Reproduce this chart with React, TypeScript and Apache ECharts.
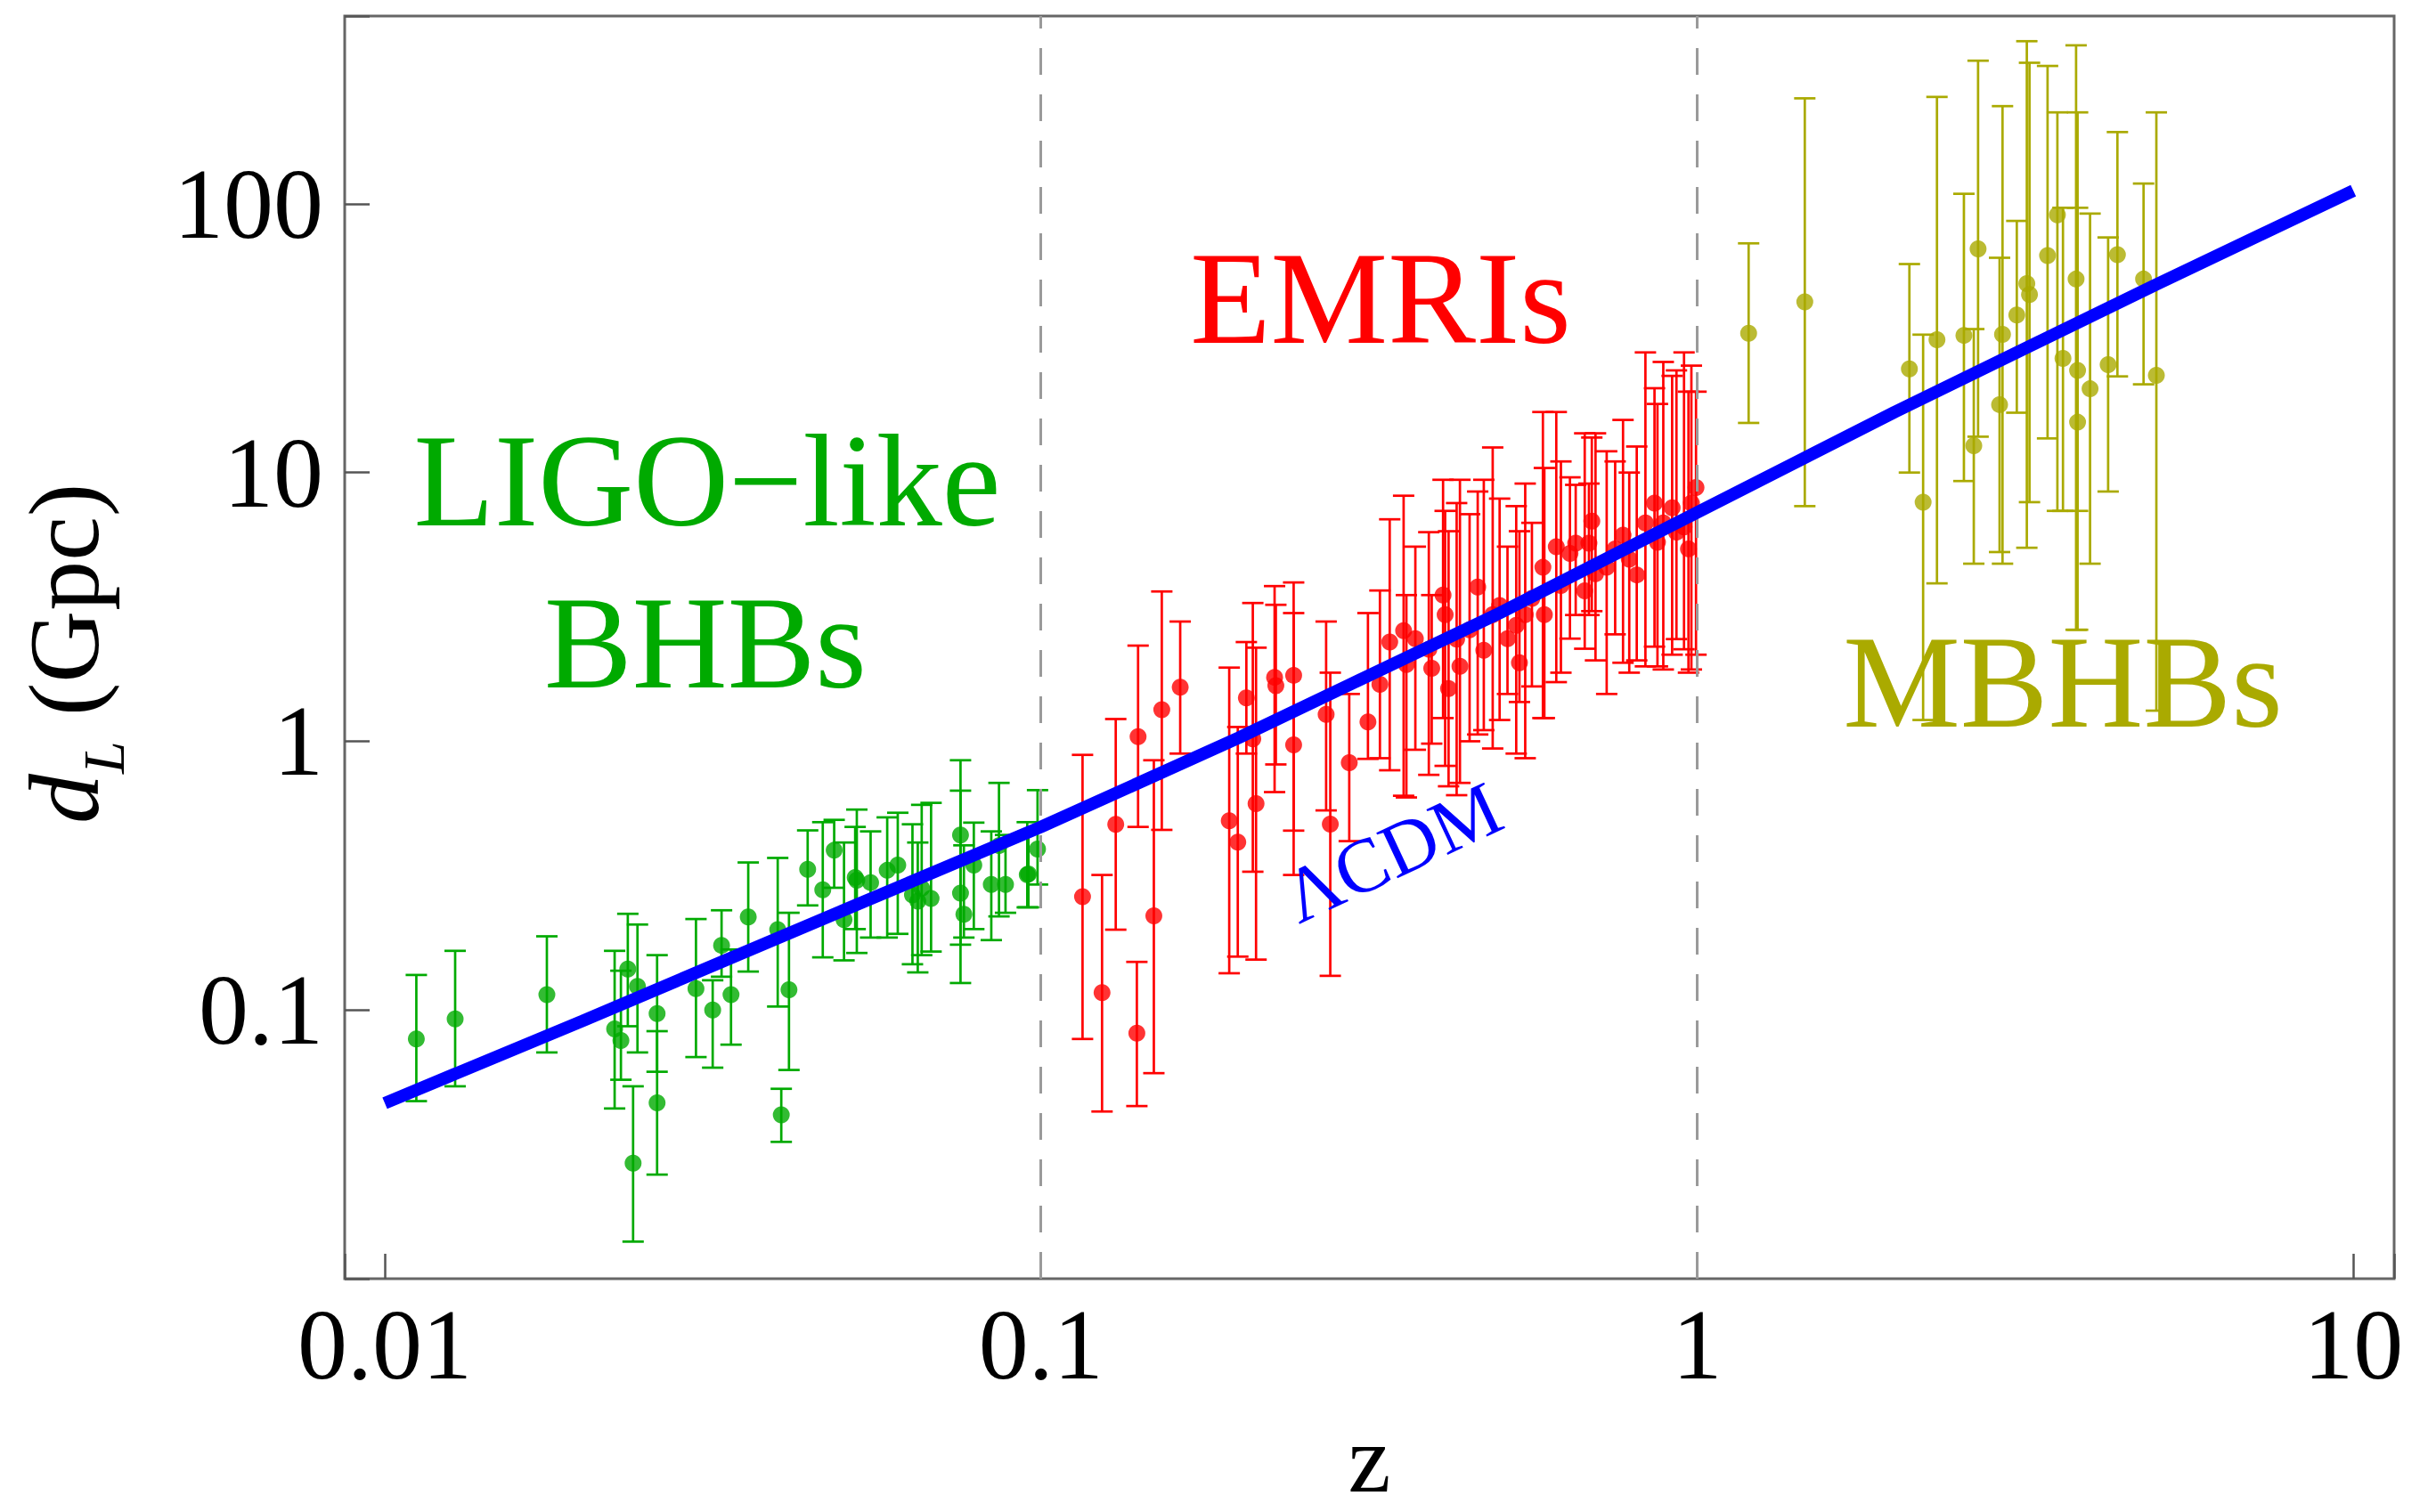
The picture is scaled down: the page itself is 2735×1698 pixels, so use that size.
import React, { useEffect, useRef } from "react";
import * as echarts from "echarts";

// [z, dL, lower, upper]  (Gpc)
const ligoPoints: number[][] = [
  [0.01117, 0.078, 0.0458, 0.135],
  [0.0128, 0.0927, 0.052, 0.166],
  [0.01766, 0.114, 0.0695, 0.188],
  [0.0224, 0.085, 0.043, 0.166],
  [0.0229, 0.077, 0.055, 0.14],
  [0.02346, 0.142, 0.087, 0.228],
  [0.02427, 0.1225, 0.0695, 0.208],
  [0.0239, 0.0269, 0.01374, 0.052],
  [0.026, 0.097, 0.0589, 0.16],
  [0.026, 0.0451, 0.0244, 0.0834],
  [0.0298, 0.12, 0.0668, 0.218],
  [0.0316, 0.1, 0.061, 0.129],
  [0.0326, 0.174, 0.133, 0.235],
  [0.0337, 0.114, 0.0743, 0.168],
  [0.0358, 0.222, 0.139, 0.354],
  [0.0397, 0.199, 0.103, 0.368],
  [0.0413, 0.119, 0.0598, 0.23],
  [0.0402, 0.0407, 0.0323, 0.0509],
  [0.0441, 0.334, 0.245, 0.466],
  [0.0465, 0.28, 0.157, 0.5],
  [0.0484, 0.393, 0.285, 0.51],
  [0.0501, 0.217, 0.153, 0.42],
  [0.0521, 0.311, 0.2, 0.48],
  [0.0524, 0.304, 0.163, 0.557],
  [0.055, 0.298, 0.186, 0.462],
  [0.0583, 0.331, 0.186, 0.521],
  [0.0605, 0.346, 0.192, 0.542],
  [0.0637, 0.268, 0.148, 0.491],
  [0.0649, 0.254, 0.138, 0.42],
  [0.0658, 0.284, 0.16, 0.58],
  [0.068, 0.26, 0.165, 0.59],
  [0.0754, 0.448, 0.126, 0.85],
  [0.0754, 0.272, 0.175, 0.655],
  [0.0763, 0.227, 0.186, 0.41],
  [0.079, 0.346, 0.2, 0.498],
  [0.084, 0.293, 0.182, 0.462],
  [0.0863, 0.409, 0.223, 0.7],
  [0.0883, 0.293, 0.23, 0.448],
  [0.0953, 0.319, 0.241, 0.5],
  [0.0957, 0.321, 0.241, 0.462],
  [0.0988, 0.397, 0.293, 0.658],
];

const emriPoints: number[][] = [
  [0.1157, 0.264, 0.078, 0.89],
  [0.1239, 0.116, 0.0419, 0.318],
  [0.13, 0.491, 0.199, 1.21],
  [0.14, 0.082, 0.0439, 0.151],
  [0.1406, 1.04, 0.48, 2.27],
  [0.1486, 0.224, 0.0582, 0.85],
  [0.1528, 1.31, 0.468, 3.61],
  [0.163, 1.59, 0.9, 2.79],
  [0.1936, 0.506, 0.137, 1.88],
  [0.1995, 0.421, 0.158, 1.13],
  [0.2056, 1.45, 0.9, 2.34],
  [0.2103, 1.02, 0.327, 3.27],
  [0.2127, 0.586, 0.154, 2.23],
  [0.227, 1.73, 0.647, 3.78],
  [0.228, 1.61, 0.82, 3.22],
  [0.2427, 1.76, 0.465, 3.9],
  [0.2427, 0.97, 0.318, 3.0],
  [0.272, 1.26, 0.553, 2.79],
  [0.276, 0.492, 0.134, 1.8],
  [0.295, 0.832, 0.425, 1.5],
  [0.315, 1.18, 0.86, 3.0],
  [0.3285, 1.63, 0.865, 3.64],
  [0.34, 2.34, 0.78, 6.7],
  [0.357, 2.58, 0.627, 8.2],
  [0.3605, 1.93, 0.618, 3.5],
  [0.372, 2.41, 0.93, 5.3],
  [0.39, 2.2, 0.75, 6.0],
  [0.394, 1.87, 0.98, 3.5],
  [0.41, 3.5, 1.22, 9.4],
  [0.413, 2.96, 0.81, 7.2],
  [0.418, 1.57, 0.68, 6.05],
  [0.43, 2.4, 0.63, 7.7],
  [0.435, 1.9, 0.7, 9.4],
  [0.45, 2.6, 1.0, 7.0],
  [0.463, 3.75, 1.06, 8.5],
  [0.473, 2.18, 1.1, 9.4],
  [0.488, 2.96, 0.94, 12.4],
  [0.5, 3.2, 1.2, 8.0],
  [0.514, 2.41, 1.5, 5.3],
  [0.53, 2.7, 0.9, 7.5],
  [0.536, 1.96, 1.4, 6.05],
  [0.547, 2.96, 0.865, 9.1],
  [0.56, 3.4, 1.6, 6.5],
  [0.582, 4.44, 1.22, 16.8],
  [0.585, 2.96, 1.22, 10.4],
  [0.61, 5.3, 1.66, 16.8],
  [0.62, 3.8, 1.8, 11],
  [0.64, 5.0, 2.41, 9.6],
  [0.653, 5.46, 2.95, 9.0],
  [0.674, 3.63, 2.21, 14],
  [0.684, 5.46, 2.95, 9.1],
  [0.691, 6.6, 3.05, 13.5],
  [0.7, 4.2, 2.0, 14],
  [0.728, 4.44, 1.5, 12],
  [0.75, 5.2, 2.5, 11],
  [0.771, 5.85, 1.96, 15.7],
  [0.788, 4.76, 1.8, 10],
  [0.809, 4.16, 2.0, 12.5],
  [0.834, 6.5, 1.9, 28],
  [0.861, 7.7, 2.25, 20.6],
  [0.87, 5.5, 1.9, 18],
  [0.888, 6.5, 1.85, 25.8],
  [0.916, 7.4, 2.1, 22.9],
  [0.93, 6.0, 2.4, 24],
  [0.955, 6.27, 2.2, 28],
  [0.97, 5.2, 1.8, 20],
  [0.98, 7.7, 1.85, 25],
  [0.996, 8.8, 2.1, 20],
];

const mbhbPoints: number[][] = [
  [1.198, 33, 15.3, 71.3],
  [1.459, 43.2, 7.5, 247],
  [2.106, 24.3, 10, 59.7],
  [2.21, 7.76, 1.2, 32.6],
  [2.32, 31.2, 3.87, 250],
  [2.55, 32.4, 9.3, 109],
  [2.64, 12.6, 4.58, 34.2],
  [2.68, 68, 13.6, 341],
  [2.89, 17.9, 5.06, 63],
  [2.92, 32.7, 4.58, 231],
  [3.07, 38.6, 16.7, 86.4],
  [3.18, 50.5, 5.25, 403],
  [3.21, 46, 7.76, 335],
  [3.42, 64.2, 13.4, 326],
  [3.54, 91, 7.2, 219],
  [3.61, 26.6, 7.2, 96.7],
  [3.78, 52.5, 2.6, 389],
  [3.8, 24, 7.2, 96.7],
  [3.8, 15.4, 2.6, 219],
  [3.97, 20.5, 4.58, 92],
  [4.23, 25.2, 8.5, 75],
  [4.37, 64.7, 22.8, 185],
  [4.79, 52.5, 21.3, 119],
  [5.01, 23, 1.3, 219],
];

// LambdaCDM luminosity distance
const lcdmZ = [0.01, 0.02, 0.05, 0.1, 0.2, 0.5, 1, 2, 5, 10];
const lcdmD = [0.045, 0.091, 0.235, 0.48, 1.03, 3.0, 7.1, 16.8, 50, 112];

const xTickLabels = [0.01, 0.1, 1, 10];
const yTickLabels = [0.1, 1, 10, 100];
const dashedAt = [0.1, 1];

const GREEN = "#00aa00";
const RED = "#ff0000";
const OLIVE = "#aaaa00";
const BLUE = "#0000ff";
const SERIF = "Liberation Serif";

function labelFor(list: number[]) {
  return (v: number) => {
    const hit = list.find((t) => Math.abs(t - v) / t < 1e-6);
    return hit === undefined ? "" : String(hit);
  };
}

function errorBars(color: string) {
  return (params: any, api: any) => {
    const x = api.value(0);
    const lo = api.coord([x, api.value(2)]);
    const hi = api.coord([x, api.value(3)]);
    const cap = 12;
    const style = { stroke: color, lineWidth: 2.7 };
    return {
      type: "group",
      children: [
        { type: "line", shape: { x1: lo[0], y1: lo[1], x2: hi[0], y2: hi[1] }, style },
        { type: "line", shape: { x1: lo[0] - cap, y1: lo[1], x2: lo[0] + cap, y2: lo[1] }, style },
        { type: "line", shape: { x1: hi[0] - cap, y1: hi[1], x2: hi[0] + cap, y2: hi[1] }, style },
      ],
    };
  };
}

export default function App() {
  const ref = useRef<HTMLDivElement>(null);
  useEffect(() => {
    if (!ref.current) return;
    const chart = echarts.init(ref.current, undefined, { renderer: "svg" });
    const groups = [
      { name: "LIGO", data: ligoPoints, color: GREEN },
      { name: "EMRI", data: emriPoints, color: RED },
      { name: "MBHB", data: mbhbPoints, color: OLIVE },
    ];
    const series: any[] = [];
    groups.forEach((g) => {
      series.push({
        type: "custom",
        name: g.name + " err",
        data: g.data,
        encode: { x: 0, y: [1, 2, 3] },
        renderItem: errorBars(g.color),
        z: 2,
        silent: true,
      });
    });
    groups.forEach((g) => {
      series.push({
        type: "scatter",
        name: g.name,
        data: g.data.map((p) => [p[0], p[1]]),
        symbol: "circle",
        symbolSize: 19,
        itemStyle: { color: g.color },
        z: 3,
        silent: true,
      });
    });
    series.push({
      type: "line",
      name: "dashed",
      data: [],
      z: 4,
      markLine: {
        silent: true,
        symbol: ["none", "none"],
        label: { show: false },
        lineStyle: { color: "#9a9a9a", type: [30, 22], width: 3 },
        data: dashedAt.map((v) => ({ xAxis: v })),
      },
    });
    series.push({
      type: "line",
      name: "LCDM",
      data: lcdmZ.map((z, i) => [z, lcdmD[i]]),
      showSymbol: false,
      symbol: "none",
      lineStyle: { color: BLUE, width: 14 },
      z: 10,
      silent: true,
    });

    const titleFont = 112;
    const subFont = 66;
    const big = (text: string, x: number, y: number, color: string) => ({
      type: "text", x, y, z: 100,
      style: {
        text, fill: color, font: `148px "${SERIF}"`,
        align: "center", verticalAlign: "middle", textAlign: "center", textVerticalAlign: "middle",
      },
    });

    chart.setOption({
      animation: false,
      backgroundColor: "#ffffff",
      grid: {
        left: 387,
        top: 18,
        width: 2301,
        height: 1418,
        show: true,
        borderColor: "#666666",
        borderWidth: 3,
        backgroundColor: "transparent",
        outerBoundsMode: "none",
      },
      xAxis: {
        type: "log",
        logBase: 10,
        min: 0.008687,
        max: 11.54,
        name: "z",
        nameLocation: "middle",
        nameGap: 148,
        nameTextStyle: { fontFamily: SERIF, fontSize: 108, color: "#000" },
        axisLine: { show: false },
        axisTick: { show: true, inside: true, length: 28, lineStyle: { color: "#555", width: 2.5 } },
        axisLabel: {
          formatter: labelFor(xTickLabels),
          fontFamily: SERIF,
          fontSize: 112,
          color: "#000",
          margin: 18,
          showMinLabel: true,
          showMaxLabel: true,
        },
        splitLine: { show: false },
        minorTick: { show: false },
      },
      yAxis: {
        type: "log",
        logBase: 10,
        min: 0.01,
        max: 500,
        axisLine: { show: false },
        axisTick: { show: true, inside: true, length: 28, lineStyle: { color: "#555", width: 2.5 } },
        axisLabel: {
          formatter: labelFor(yTickLabels),
          fontFamily: SERIF,
          fontSize: 112,
          color: "#000",
          margin: 24,
        },
        splitLine: { show: false },
        minorTick: { show: false },
      },
      graphic: [
        big("LIGO\u2212like", 794, 540, GREEN),
        big("BHBs", 792, 722, GREEN),
        big("EMRIs", 1550, 335, RED),
        big("MBHBs", 2316, 766, OLIVE),
        {
          type: "text", x: 1563, y: 957, z: 100, rotation: (25 * Math.PI) / 180,
          style: {
            text: "\u039BCDM", fill: BLUE, font: `86px "${SERIF}"`,
            align: "center", verticalAlign: "middle", textAlign: "center", textVerticalAlign: "middle",
          },
        },
        {
          type: "group",
          x: 72,
          y: 734,
          rotation: Math.PI / 2,
          z: 100,
          children: [
            {
              type: "text", x: -191, y: 0,
              style: {
                text: "d", fill: "#000", font: `italic ${titleFont}px "${SERIF}"`,
                align: "left", verticalAlign: "middle", textAlign: "left", textVerticalAlign: "middle",
              },
            },
            {
              type: "text", x: -135, y: 44,
              style: {
                text: "L", fill: "#000", font: `italic ${subFont}px "${SERIF}"`,
                align: "left", verticalAlign: "middle", textAlign: "left", textVerticalAlign: "middle",
              },
            },
            {
              type: "text", x: -98, y: 0,
              style: {
                text: " (Gpc)", fill: "#000", font: `${titleFont}px "${SERIF}"`,
                align: "left", verticalAlign: "middle", textAlign: "left", textVerticalAlign: "middle",
              },
            },
          ],
        },
      ],
      series,
    });
    return () => chart.dispose();
  }, []);
  return (
    <div
      ref={ref}
      style={{ position: "absolute", left: 0, top: 0, width: 2735, height: 1698, background: "#fff" }}
    />
  );
}
